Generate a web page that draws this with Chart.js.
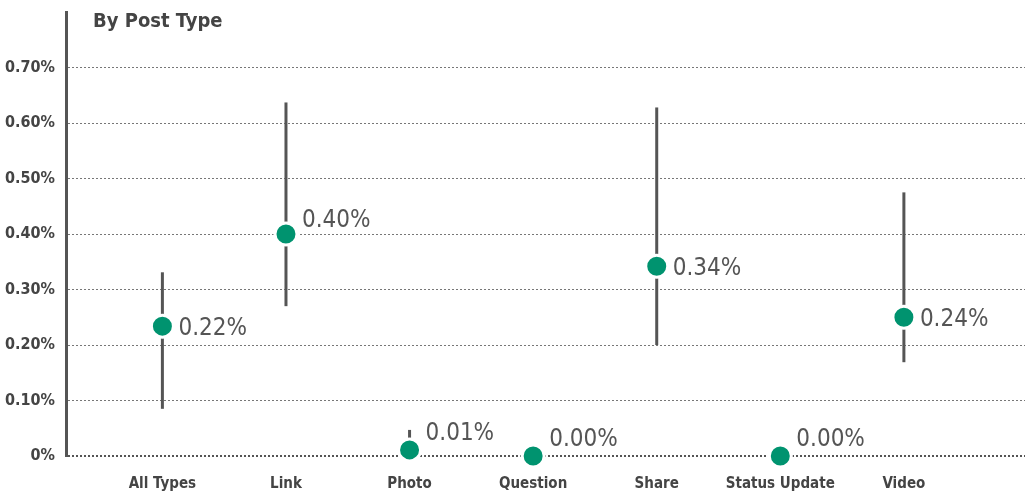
<!DOCTYPE html>
<html>
<head>
<meta charset="utf-8">
<script src="https://cdn.jsdelivr.net/npm/chart.js@4"></script>
<style>
  html, body { margin:0; padding:0; background:#fff; }
  #wrap { width:1033px; height:495px; position:relative; }
</style>
</head>
<body>
<div id="wrap"><canvas id="c"></canvas></div>
<script>
// categorias e valores (em %)
const categories = ['All Types','Link','Photo','Question','Share','Status Update','Video'];
const rateValues = [0.234, 0.40, 0.011, 0.0, 0.342, 0.0, 0.25];
const rateLabels = ['0.22%','0.40%','0.01%','0.00%','0.34%','0.00%','0.24%'];
const errLow  = [0.085, 0.27, 0.011, null, 0.20, null, 0.169];
const errHigh = [0.331, 0.637, 0.047, null, 0.628, null, 0.475];
const yTicks = [0, 0.1, 0.2, 0.3, 0.4, 0.5, 0.6, 0.7];

const FONT = "'Liberation Sans Narrow', 'DejaVu Sans Condensed', sans-serif";
const GREEN = '#00936f';
const GREY = '#555555';

// barras de erro + rótulos + título
const extras = {
  id: 'extras',
  beforeDatasetsDraw(chart) {
    const {ctx, scales:{x, y}} = chart;
    ctx.save();
    ctx.strokeStyle = GREY;
    ctx.lineWidth = 3;
    errLow.forEach((lo, i) => {
      if (lo === null) return;
      const px = x.getPixelForValue(i);
      ctx.beginPath();
      ctx.moveTo(px, y.getPixelForValue(lo));
      ctx.lineTo(px, y.getPixelForValue(errHigh[i]));
      ctx.stroke();
    });
    ctx.restore();
  },
  afterDatasetsDraw(chart) {
    const {ctx, scales:{x, y}} = chart;
    ctx.save();
    ctx.fillStyle = GREY;
    ctx.font = '24px ' + FONT;
    ctx.textBaseline = 'middle';
    ctx.textAlign = 'left';
    rateValues.forEach((v, i) => {
      const px = x.getPixelForValue(i);
      let py = y.getPixelForValue(v) + 3;
      if (v < 0.03) py -= 19;
      if (i === 1) py -= 16;
      ctx.fillText(rateLabels[i], px + 16, py);
    });
    ctx.font = 'bold 20px ' + FONT;
    ctx.fillStyle = '#444';
    ctx.fillText('By Post Type', 93, 22);
    ctx.restore();
  }
};

const ctx = document.getElementById('c').getContext('2d');
new Chart(ctx, {
  type: 'scatter',
  data: {
    datasets: [{
      data: rateValues.map((v, i) => ({x: i, y: v})),
      backgroundColor: GREEN,
      borderColor: '#ffffff',
      borderWidth: 3,
      pointRadius: 11,
      pointHoverRadius: 11,
      clip: false
    }]
  },
  options: {
    responsive: true,
    maintainAspectRatio: false,
    animation: false,
    layout: { autoPadding: false, padding: { top: 12, right: 8, left: 0, bottom: 0 } },
    plugins: { legend: { display: false }, tooltip: { enabled: false } },
    scales: {
      x: {
        type: 'linear',
        min: -0.78, max: 6.98,
        afterBuildTicks(scale) { scale.ticks = categories.map((c, i) => ({value: i})); },
        afterFit(scale) { scale.height = 39; scale.paddingLeft = 0; scale.paddingRight = 0; },
        ticks: {
          callback: (v) => categories[v],
          color: '#444',
          font: { family: FONT, size: 15, weight: 'bold' },
          padding: 19,
          autoSkip: false,
          maxRotation: 0
        },
        grid: { display: false, drawTicks: false },
        border: { display: false }
      },
      y: {
        min: 0, max: 0.8,
        afterBuildTicks(scale) { scale.ticks = yTicks.map(v => ({value: v})); },
        afterFit(scale) { scale.width = 66; scale.paddingTop = 0; scale.paddingBottom = 0; },
        ticks: {
          callback: (v) => v === 0 ? '0%' : v.toFixed(2) + '%',
          color: '#444',
          font: { family: FONT, size: 16, weight: 'bold' },
          padding: 11
        },
        grid: {
          drawTicks: false,
          color: (c) => c.tick && c.tick.value === 0 ? '#555' : '#777',
          lineWidth: (c) => c.tick && c.tick.value === 0 ? 2 : 1
        },
        border: { display: true, color: '#555', width: 3, dash: [2, 2] }
      }
    }
  },
  plugins: [extras]
});
</script>
</body>
</html>
